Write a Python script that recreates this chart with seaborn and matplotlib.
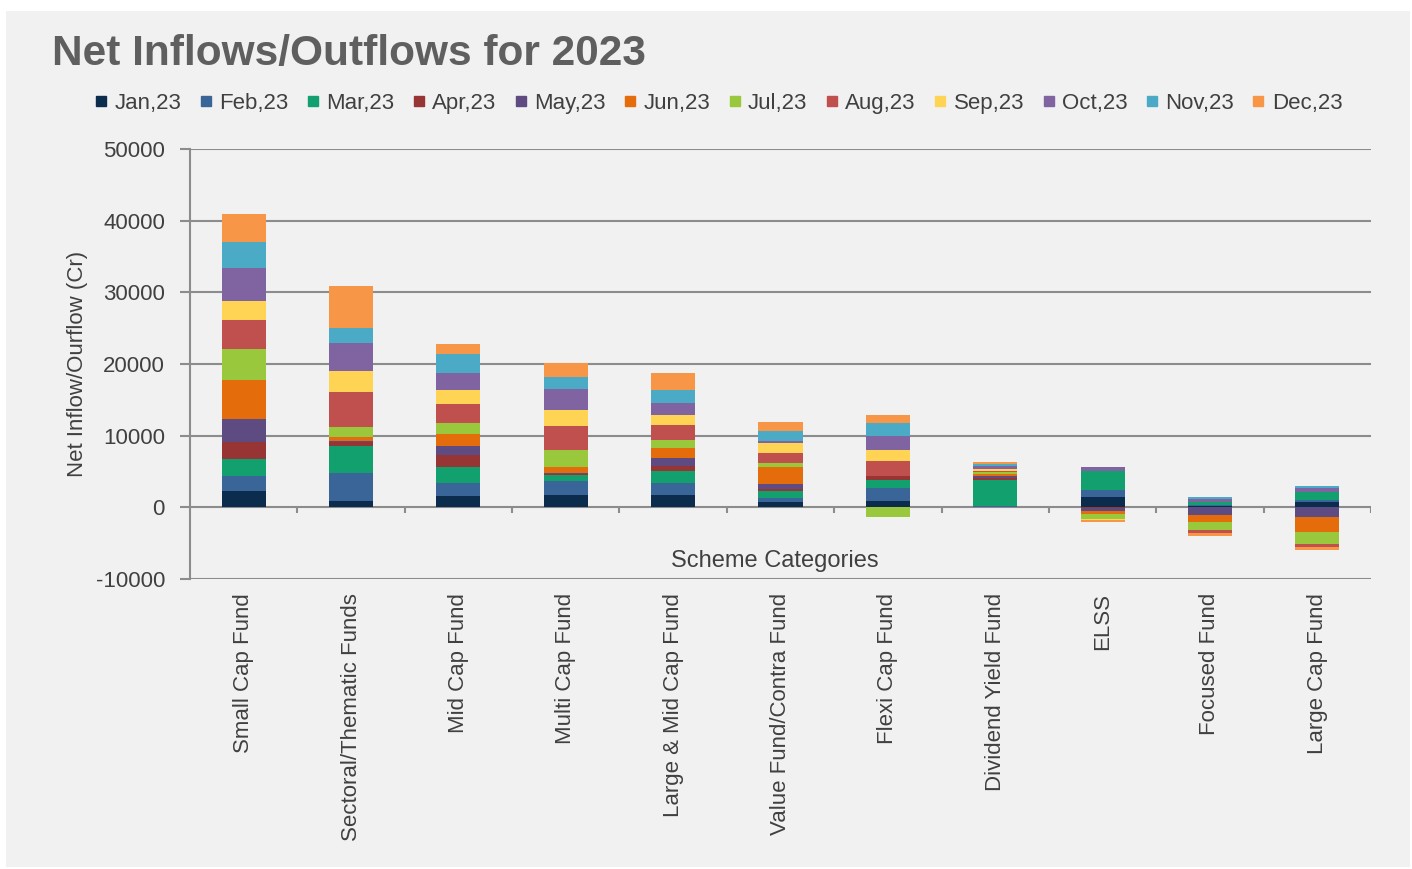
import matplotlib
matplotlib.use("Agg")
import matplotlib.pyplot as plt
from matplotlib.lines import Line2D
from matplotlib.patches import Rectangle
import seaborn as sns
import numpy as np
import pandas as pd

# Scheme categories (x axis)
categories = ["Small Cap Fund", "Sectoral/Thematic Funds", "Mid Cap Fund", "Multi Cap Fund",
              "Large & Mid Cap Fund", "Value Fund/Contra Fund", "Flexi Cap Fund",
              "Dividend Yield Fund", "ELSS", "Focused Fund", "Large Cap Fund"]

# Monthly net inflow/outflow (Cr), one list per month, same order as categories
jan = [2270, 880, 1530, 1670, 1710, 790, 880, 60, 1490, 230, 790]
feb = [2130, 3860, 1860, 1950, 1630, 560, 1760, 60, 975, 100, 280]
mar = [2410, 3860, 2180, 840, 1710, 930, 1160, 3670, 2650, 450, 1020]
apr = [2320, 460, 1760, 200, 700, 230, 560, 250, -150, 0, 0]
may = [3160, 150, 1160, 200, 1160, 740, 50, 300, -370, -1020, -1300]
jun = [5430, 560, 1760, 700, 1300, 2410, 0, 330, -460, -1070, -2090]
jul = [4320, 1390, 1580, 2460, 1250, 560, -1300, 230, -650, -1020, -1720]
aug = [4130, 4870, 2550, 3340, 2090, 1390, 2090, 230, 0, -460, -460]
sep = [2690, 3060, 1990, 2230, 1300, 1300, 1530, 230, -200, 0, 0]
oct_ = [4500, 3900, 2410, 2920, 1710, 370, 1990, 370, 460, 450, 560]
nov = [3720, 2090, 2600, 1720, 1760, 1350, 1810, 300, 100, 160, 370]
dec = [3850, 5850, 1390, 1860, 2410, 1210, 1070, 230, -230, -420, -330]

months = ["Jan,23", "Feb,23", "Mar,23", "Apr,23", "May,23", "Jun,23",
          "Jul,23", "Aug,23", "Sep,23", "Oct,23", "Nov,23", "Dec,23"]
colors = ["#0c2c4e", "#3a6599", "#12a06f", "#973434", "#5e4b82", "#e46c0a",
          "#99c83c", "#c0504d", "#ffd455", "#8064a2", "#4babc6", "#f79646"]

data = pd.DataFrame([jan, feb, mar, apr, may, jun, jul, aug, sep, oct_, nov, dec],
                    index=months, columns=categories)

# cumulative stacks, positives upward and negatives downward (Excel style)
cum_pos = data.clip(lower=0).cumsum()
cum_neg = data.clip(upper=0).cumsum()

sns.set_theme(style="white")
plt.rcParams["font.family"] = ["Liberation Sans", "DejaVu Sans"]
plt.rcParams["axes.unicode_minus"] = False
text_color = "#404040"
grid_color = "#8c8c8c"
panel = "#f1f1f1"

fig = plt.figure(figsize=(14.12, 8.69), dpi=100, facecolor="white")
fig.patches.append(Rectangle((6 / 1412, 2 / 869), 1404 / 1412, 856 / 869,
                             transform=fig.transFigure, facecolor=panel,
                             edgecolor="none", zorder=-10))
ax = fig.add_axes([190 / 1412, (869 - 579) / 869, 1181 / 1412, 430 / 869])
ax.set_facecolor(panel)

# draw from last month to first so each earlier month covers the lower part
for k in range(len(months) - 1, -1, -1):
    for cum in (cum_pos, cum_neg):
        frame = pd.DataFrame({"category": categories, "value": cum.iloc[k].values})
        sns.barplot(data=frame, x="category", y="value", order=categories,
                    color=colors[k], saturation=1, width=0.41, linewidth=0,
                    errorbar=None, ax=ax, zorder=3)

ax.set_xlim(-0.5, len(categories) - 0.5)
ax.set_ylim(-10000, 50000)
ax.set_yticks(np.arange(-10000, 50001, 10000))
ax.yaxis.grid(True, color=grid_color, linewidth=1.5)
ax.set_axisbelow(True)
for side in ["top", "right", "bottom"]:
    ax.spines[side].set_visible(False)
ax.spines["left"].set_color(grid_color)
ax.spines["left"].set_linewidth(1.5)

ax.tick_params(axis="y", length=7, width=1.5, color=grid_color, pad=11,
               labelsize=16, labelcolor=text_color, left=True)
ax.tick_params(axis="x", length=0, pad=10, labelsize=16, labelcolor=text_color)
ax.set_xticks(range(len(categories)))
ax.set_xticklabels(categories, rotation=90, va="top", ha="center")

# tick marks on the zero line between categories
bounds = np.arange(0.5, len(categories), 1.0)
ax.vlines(bounds, 0, -850, color=grid_color, linewidth=1.5, zorder=2)

ax.set_xlabel("")
ax.set_ylabel("Net Inflow/Ourflow (Cr)", fontsize=16, color=text_color)
ax.yaxis.set_label_coords(-0.0864, 0.5)
ax.text(0.495, 0.042, "Scheme Categories", transform=ax.transAxes,
        ha="center", va="center", fontsize=17, color=text_color)

fig.text(52 / 1412, 1 - 54 / 869, "Net Inflows/Outflows for 2023", fontsize=30.5,
         fontweight="bold", color="#5f5f5f", ha="left", va="center")

handles = [Line2D([], [], marker="s", linestyle="", markersize=7.5, color=c) for c in colors]
fig.legend(handles, months, loc="center", bbox_to_anchor=(718 / 1412, 1 - 103 / 869),
           ncol=12, frameon=False, fontsize=16, handlelength=0.7, handletextpad=0.25,
           columnspacing=0.75, labelcolor=text_color)

fig.savefig("out.png", dpi=100, facecolor=fig.get_facecolor())
